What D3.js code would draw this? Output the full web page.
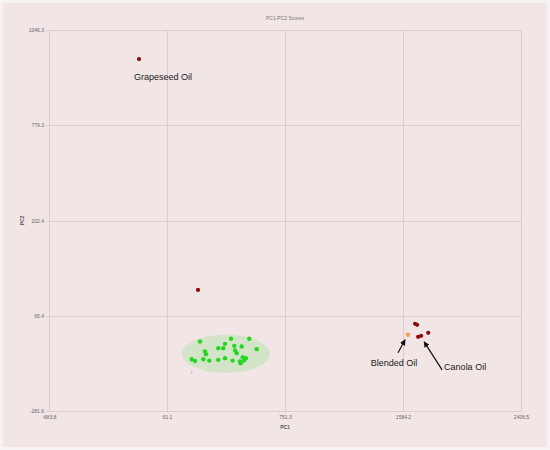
<!DOCTYPE html>
<html><head><meta charset="utf-8">
<script src="https://cdn.jsdelivr.net/npm/d3@7"></script>
<style>html,body{margin:0;padding:0;background:#f7f1f1;}svg{display:block;}</style>
</head><body><div id="chart"></div>
<script>
const xTicks = [-683.8, 61.1, 751.3, 1584.2, 2406.5];
const xTickLabels = ["-683.8", "61.1", "751.3", "1584.2", "2406.5"];
const yTicks = [-281.6, 65.4, 202.4, 779.3, 1046.3];
const yTickLabels = ["-281.6", "65.4", "202.4", "779.3", "1046.3"];

const greenPC1 = [254.1,435.4,542.5,400.3,361.2,390.4,454.7,498.0,585.8,283.4,289.2,459.1,469.0,205.6,225.0,273.5,308.6,361.2,400.3,445.1,491.9,511.4,523.0,503.7,487.9];
const greenPC2 = [-28.5,-18.6,-18.6,-36.9,-52.6,-52.6,-44.2,-46.7,-56.2,-65.0,-74.5,-61.4,-70.9,-92.8,-99.0,-92.8,-97.9,-95.3,-89.1,-97.9,-107.4,-97.9,-89.1,-85.5,-101.5];
const redPC1 = [-115.5, 242.4, 1668.5, 1682.6, 1759.9, 1689.6, 1710.7];
const redPC2 = [964.8, 102.5, 36.2, 32.5, 3.3, -11.3, -7.7];
const blendPC1 = [1619.3];
const blendPC2 = [-4.0];
const ellipseX = [148.8, 663.5];
const ellipseY = [-142.8, -4.0];
const labels = ["Grapeseed Oil", "Blended Oil", "Canola Oil"];

const W = 550, H = 450;
const L = 49, R = 521, T = 30, B = 411;
const svg = d3.select("#chart").append("svg").attr("width", W).attr("height", H);
svg.append("rect").attr("x",1.5).attr("y",1.5).attr("width",W-3).attr("height",H-3)
  .attr("fill","#f1e5e6").attr("stroke","#f8f3f3").attr("stroke-width",3);

const x = d3.scaleLinear().domain(xTicks).range(xTicks.map((d,i)=>L + i*(R-L)/(xTicks.length-1)));
const y = d3.scaleLinear().domain(yTicks).range(yTicks.map((d,i)=>B - i*(B-T)/(yTicks.length-1)));

const grid = svg.append("g").attr("stroke","#dccdcf").attr("stroke-width",1);
xTicks.forEach(t=>grid.append("line").attr("x1",Math.round(x(t))+0.5).attr("x2",Math.round(x(t))+0.5).attr("y1",T).attr("y2",B));
yTicks.forEach(t=>grid.append("line").attr("y1",Math.round(y(t))+0.5).attr("y2",Math.round(y(t))+0.5).attr("x1",L-3).attr("x2",R));

const xAxis = d3.axisBottom(x).tickValues(xTicks).tickFormat((d,i)=>xTickLabels[i]).tickSize(0).tickPadding(4);
const gx = svg.append("g").attr("transform",`translate(0,${B})`).call(xAxis);
gx.select(".domain").remove();
gx.selectAll("text").attr("font-family","Liberation Sans, Arial").attr("font-size",5).attr("fill","#666");
const yAxis = d3.axisLeft(y).tickValues(yTicks).tickFormat((d,i)=>yTickLabels[i]).tickSize(0).tickPadding(5);
const gy = svg.append("g").attr("transform",`translate(${L},0)`).call(yAxis);
gy.select(".domain").remove();
gy.selectAll("text").attr("font-family","Liberation Sans, Arial").attr("font-size",5).attr("fill","#666");

svg.append("text").attr("x",(L+R)/2).attr("y",20).attr("text-anchor","middle")
  .attr("font-family","Liberation Sans, Arial").attr("font-size",5).attr("fill","#777").text("PC1-PC2 Scores");
svg.append("text").attr("x",(L+R)/2).attr("y",429).attr("text-anchor","middle")
  .attr("font-family","Liberation Sans, Arial").attr("font-size",5).attr("font-weight","bold").attr("fill","#555").text("PC1");
svg.append("text").attr("transform",`translate(24,${(T+B)/2}) rotate(-90)`).attr("text-anchor","middle")
  .attr("font-family","Liberation Sans, Arial").attr("font-size",5).attr("font-weight","bold").attr("fill","#555").text("PC2");

// ellipse
const ecx = (x(ellipseX[0])+x(ellipseX[1]))/2, ecy = (y(ellipseY[0])+y(ellipseY[1]))/2;
svg.append("ellipse").attr("cx",ecx).attr("cy",ecy)
  .attr("rx",Math.abs(x(ellipseX[1])-x(ellipseX[0]))/2).attr("ry",Math.abs(y(ellipseY[0])-y(ellipseY[1]))/2)
  .attr("fill","#c9e3bd").attr("opacity",0.75);
svg.append("text").attr("x",x(ellipseX[0])+9).attr("y",y(ellipseY[0])+1).attr("font-size",5).attr("fill","#888")
  .attr("font-family","Liberation Sans, Arial").text("ı");

svg.append("g").selectAll("circle").data(greenPC1).join("circle")
  .attr("cx",d=>x(d)).attr("cy",(d,i)=>y(greenPC2[i])).attr("r",2.2).attr("fill","#22d622");
svg.append("g").selectAll("circle").data(redPC1).join("circle")
  .attr("cx",d=>x(d)).attr("cy",(d,i)=>y(redPC2[i])).attr("r",2.1).attr("fill","#8b0a0a");
svg.append("g").selectAll("circle").data(blendPC1).join("circle")
  .attr("cx",d=>x(d)).attr("cy",(d,i)=>y(blendPC2[i])).attr("r",2.2).attr("fill","#f0a050");

// labels
const lf = "Liberation Sans, Arial";
svg.append("text").attr("x",x(redPC1[0])+24).attr("y",y(redPC2[0])+21).attr("text-anchor","middle")
  .attr("font-family",lf).attr("font-size",9).attr("fill","#222").text(labels[0]);
svg.append("text").attr("x",x(blendPC1[0])-14).attr("y",y(blendPC2[0])+31).attr("text-anchor","middle")
  .attr("font-family",lf).attr("font-size",9).attr("fill","#222").text(labels[1]);
svg.append("text").attr("x",x(redPC1[5])+26).attr("y",y(redPC2[5])+33).attr("text-anchor","start")
  .attr("font-family",lf).attr("font-size",9).attr("fill","#222").text(labels[2]);

const defs = svg.append("defs");
defs.append("marker").attr("id","ah").attr("viewBox","0 0 10 10").attr("refX",9).attr("refY",5)
  .attr("markerWidth",5).attr("markerHeight",5).attr("orient","auto")
  .append("path").attr("d","M0,0 L10,5 L0,10 z").attr("fill","#111");
svg.append("line").attr("x1",x(blendPC1[0])-10).attr("y1",y(blendPC2[0])+18)
  .attr("x2",x(blendPC1[0])-3).attr("y2",y(blendPC2[0])+5)
  .attr("stroke","#111").attr("stroke-width",1.2).attr("marker-end","url(#ah)");
svg.append("line").attr("x1",x(redPC1[5])+24).attr("y1",y(redPC2[5])+33)
  .attr("x2",x(redPC1[5])+6).attr("y2",y(redPC2[5])+5)
  .attr("stroke","#111").attr("stroke-width",1.2).attr("marker-end","url(#ah)");
</script></body></html>
